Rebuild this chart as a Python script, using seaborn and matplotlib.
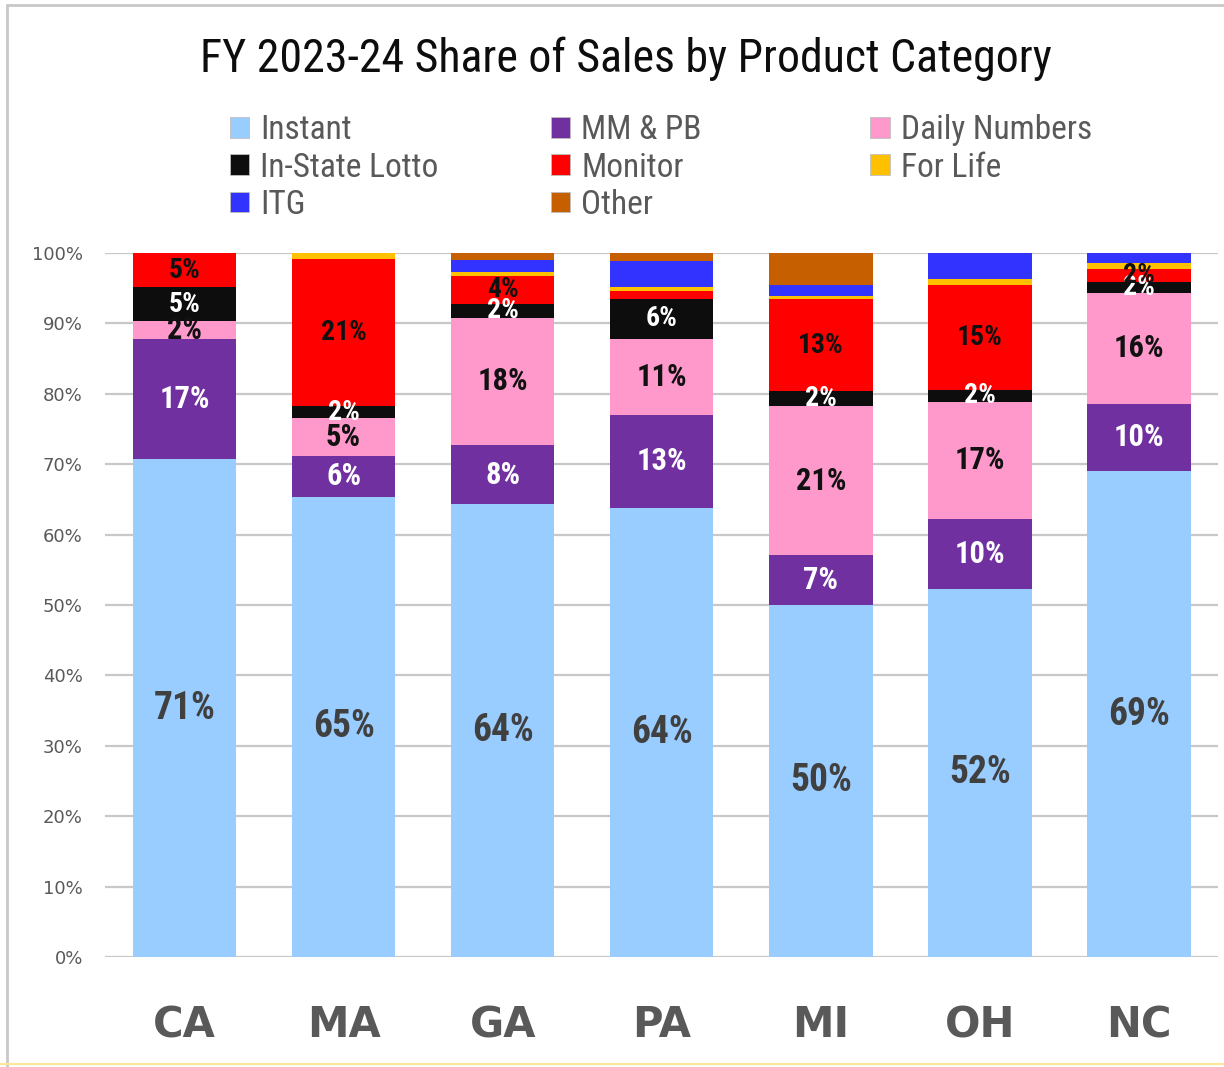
import numpy as np
import pandas as pd
import matplotlib
matplotlib.use("Agg")
import matplotlib.pyplot as plt
from matplotlib.patches import Patch
from matplotlib.lines import Line2D
import seaborn as sns

# data (percent of sales)
states = ["CA", "MA", "GA", "PA", "MI", "OH", "NC"]
instant = [70.7, 65.4, 64.3, 63.8, 50.0, 52.3, 69.0]
mm_pb = [17.1, 5.8, 8.4, 13.2, 7.1, 9.9, 9.6]
daily = [2.5, 5.3, 18.1, 10.8, 21.1, 16.7, 15.7]
lotto = [4.8, 1.8, 2.0, 5.7, 2.2, 1.7, 1.6]
monitor = [4.9, 20.9, 4.0, 1.1, 13.0, 14.8, 1.8]
for_life = [0.0, 0.8, 0.5, 0.5, 0.5, 0.9, 0.9]
itg = [0.0, 0.0, 1.7, 3.7, 1.5, 3.7, 1.4]
other = [0.0, 0.0, 1.0, 1.2, 4.6, 0.0, 0.0]

categories = ["Instant", "MM & PB", "Daily Numbers", "In-State Lotto",
              "Monitor", "For Life", "ITG", "Other"]
colors = {"Instant": "#99CCFF", "MM & PB": "#7030A0", "Daily Numbers": "#FF99CC",
          "In-State Lotto": "#0D0D0D", "Monitor": "#FF0000", "For Life": "#FFC000",
          "ITG": "#3333FF", "Other": "#C65F00"}
# label styling for the labelled segments
label_style = {"Instant": ("#404040", 27), "MM & PB": ("white", 22),
               "Daily Numbers": ("#111111", 22), "In-State Lotto": ("white", 20),
               "Monitor": ("#111111", 20)}

df = pd.DataFrame({"State": states, "Instant": instant, "MM & PB": mm_pb,
                   "Daily Numbers": daily, "In-State Lotto": lotto,
                   "Monitor": monitor, "For Life": for_life, "ITG": itg,
                   "Other": other})
cum = df[categories].cumsum(axis=1)
for c in categories:
    df["cum_" + c] = cum[c]

sns.set_style("white")
narrow = ["Liberation Sans Narrow", "Arial Narrow", "Roboto Condensed",
          "PT Sans Narrow", "Archivo Narrow", "DejaVu Sans"]
plt.rcParams["font.family"] = narrow

fig = plt.figure(figsize=(12.24, 10.67), dpi=100)
ax = fig.add_axes([0.0858, 0.1031, 0.9097, 0.6598])

# stacked bars: draw cumulative totals from the top layer down
for c in reversed(categories):
    sns.barplot(data=df, x="State", y="cum_" + c, color=colors[c], width=0.65,
                saturation=1, errorbar=None, linewidth=0, ax=ax, zorder=3)

# segment labels (tiny slivers stay unlabelled)
for i, s in enumerate(states):
    base = 0.0
    for c in categories:
        v = df.loc[i, c]
        if c in label_style and v >= 1.5:
            col, fs = label_style[c]
            ax.text(i, base + v / 2, f"{v:.0f}%", ha="center", va="center",
                    color=col, fontsize=fs, fontweight="bold", family=narrow,
                    zorder=5)
        base += v

ax.set_xlim(-0.5, len(states) - 0.5)
ax.set_ylim(0, 100)
ax.set_yticks(np.arange(0, 101, 10))
ax.set_yticklabels([f"{t}%" for t in range(0, 101, 10)], family="DejaVu Sans",
                   fontsize=13, color="#595959")
ax.tick_params(axis="y", length=0, pad=16)
ax.tick_params(axis="x", length=0, pad=34)
for lab in ax.get_xticklabels():
    lab.set_family("DejaVu Sans")
    lab.set_fontsize(30)
    lab.set_fontweight("heavy")
    lab.set_color("#595959")
ax.set_xlabel("")
ax.set_ylabel("")
ax.yaxis.grid(True, color="#C8C8C8", linewidth=1.6)
ax.set_axisbelow(True)
for sp in ax.spines.values():
    sp.set_visible(False)

fig.text(0.511, 0.945, "FY 2023-24 Share of Sales by Product Category",
         ha="center", va="center", fontsize=33, color="#0D0D0D", family=narrow)

# legend in three columns, row-wise like the reference
cols = [["Instant", "In-State Lotto", "ITG"],
        ["MM & PB", "Monitor", "Other"],
        ["Daily Numbers", "For Life"]]
xs = [0.188, 0.450, 0.711]
for xpos, names in zip(xs, cols):
    handles = [Patch(facecolor=colors[n], edgecolor="#BFBFBF", linewidth=0.6,
                     label=n) for n in names]
    fig.legend(handles=handles, loc="upper left", bbox_to_anchor=(xpos, 0.893),
               frameon=False, fontsize=24, labelcolor="#595959",
               handlelength=0.58, handleheight=0.58, handletextpad=0.33,
               labelspacing=0.16, borderpad=0, borderaxespad=0)

# chart frame
fig.add_artist(Line2D([0.006, 0.006], [0.0, 0.995], transform=fig.transFigure,
                      color="#C8C8C8", linewidth=2))
fig.add_artist(Line2D([0.006, 1.0], [0.995, 0.995], transform=fig.transFigure,
                      color="#C8C8C8", linewidth=2))
fig.add_artist(Line2D([0.0, 1.0], [0.003, 0.003], transform=fig.transFigure,
                      color="#FFE699", linewidth=1.5))

fig.savefig("out.png", dpi=100)
